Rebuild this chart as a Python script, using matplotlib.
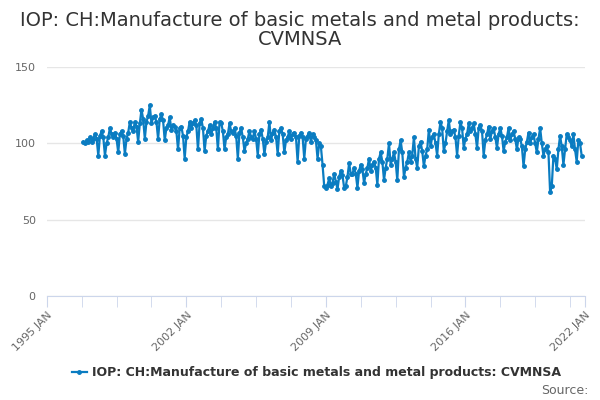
import numpy as np
import pandas as pd
import matplotlib
matplotlib.use('Agg')
import matplotlib.pyplot as plt

# monthly index values, 1996 Nov .. 2021 Nov
start = '1996-11-01'
values = [
    101, 100,
    102, 101, 104, 101, 103, 106, 103, 92, 105, 108, 104, 92,      # 1997
    100, 104, 110, 106, 104, 107, 103, 94, 106, 108, 105, 93,      # 1998
    103, 107, 114, 110, 108, 114, 111, 101, 113, 122, 116, 103,    # 1999
    114, 118, 125, 113, 117, 118, 114, 103, 116, 119, 115, 102,    # 2000
    110, 112, 117, 109, 112, 111, 108, 96, 110, 111, 105, 90,      # 2001
    104, 108, 114, 110, 113, 115, 112, 96, 113, 116, 110, 95,      # 2002
    105, 108, 112, 106, 110, 114, 110, 96, 114, 113, 108, 96,      # 2003
    104, 106, 113, 108, 107, 110, 105, 90, 107, 110, 104, 95,      # 2004
    100, 103, 108, 104, 103, 108, 103, 92, 106, 109, 103, 93,      # 2005
    101, 104, 114, 102, 107, 109, 104, 93, 108, 110, 106, 94,      # 2006
    102, 104, 108, 103, 106, 107, 104, 88, 105, 107, 104, 90,      # 2007
    103, 105, 107, 101, 106, 104, 102, 90, 100, 98, 86, 72,        # 2008
    71, 73, 77, 72, 74, 80, 75, 70, 78, 82, 79, 71,                # 2009
    72, 78, 87, 80, 80, 84, 80, 71, 82, 86, 83, 74,                # 2010
    80, 84, 90, 82, 86, 88, 84, 73, 90, 94, 88, 76,                # 2011
    84, 90, 100, 86, 90, 94, 88, 76, 96, 102, 94, 78,              # 2012
    84, 88, 94, 88, 92, 104, 90, 84, 98, 101, 95, 85,              # 2013
    92, 96, 109, 98, 104, 106, 100, 92, 106, 114, 110, 95,         # 2014
    100, 108, 115, 106, 108, 109, 104, 92, 105, 114, 110, 97,      # 2015
    103, 106, 113, 108, 110, 113, 106, 97, 110, 112, 108, 92,      # 2016
    102, 106, 111, 103, 108, 110, 104, 97, 106, 110, 105, 95,      # 2017
    101, 104, 110, 102, 106, 108, 103, 96, 104, 103, 98, 85,       # 2018
    96, 101, 107, 100, 104, 106, 100, 94, 103, 110, 100, 92,       # 2019
    96, 98, 94, 68, 72, 92, 90, 83, 96, 105, 98, 86,               # 2020
    96, 106, 104, 102, 98, 106, 96, 88, 102, 100, 92,              # 2021
]
series_name = 'IOP: CH:Manufacture of basic metals and metal products: CVMNSA'
title = 'IOP: CH:Manufacture of basic metals and metal products:\nCVMNSA'
label_years = [1995, 2002, 2009, 2016, 2022]
y_ticks = [0, 50, 100, 150]

dates = pd.date_range(start, periods=len(values), freq='MS')
x = dates.year + (dates.month - 1) / 12.0

fig = plt.figure(figsize=(6, 4), dpi=100)
ax = fig.add_axes([0.078, 0.26, 0.897, 0.5725])

blue = '#0a7cc1'
ax.plot(x, values, color=blue, lw=1.6, marker='o', ms=2.5, label=series_name)

ax.set_xlim(1995, 2022)
ax.set_ylim(0, 150)
ax.set_yticks(y_ticks)
ax.yaxis.grid(True, color='#e6e6e6', lw=1)
ax.set_axisbelow(True)
for s in ['left', 'right', 'top']:
    ax.spines[s].set_visible(False)
ax.spines['bottom'].set_color('#ccd6eb')
ax.tick_params(axis='y', length=0, labelsize=8, labelcolor='#666666', pad=8)

minor = list(np.arange(1995, 2022, 1.75)) + [2022]
ax.set_xticks(minor, minor=True)
ax.set_xticks(label_years)
ax.set_xticklabels(['%d JAN' % y for y in label_years], rotation=45,
                   ha='right', rotation_mode='anchor')
ax.tick_params(axis='x', which='both', length=8, color='#ccd6eb',
               labelsize=8, labelcolor='#666666', pad=2)

fig.text(0.5, 0.925, title, ha='center', va='center', fontsize=14,
         color='#333333', linespacing=1.05)

leg = fig.legend(loc='center', bbox_to_anchor=(0.527, 0.068), frameon=False,
                 handlelength=1.2, handletextpad=0.4, fontsize=9)
for t in leg.get_texts():
    t.set_color('#333333')
    t.set_fontweight('bold')

fig.text(0.98, 0.025, 'Source:', ha='right', va='center', fontsize=9,
         color='#666666')

fig.savefig('out.png', dpi=100)
